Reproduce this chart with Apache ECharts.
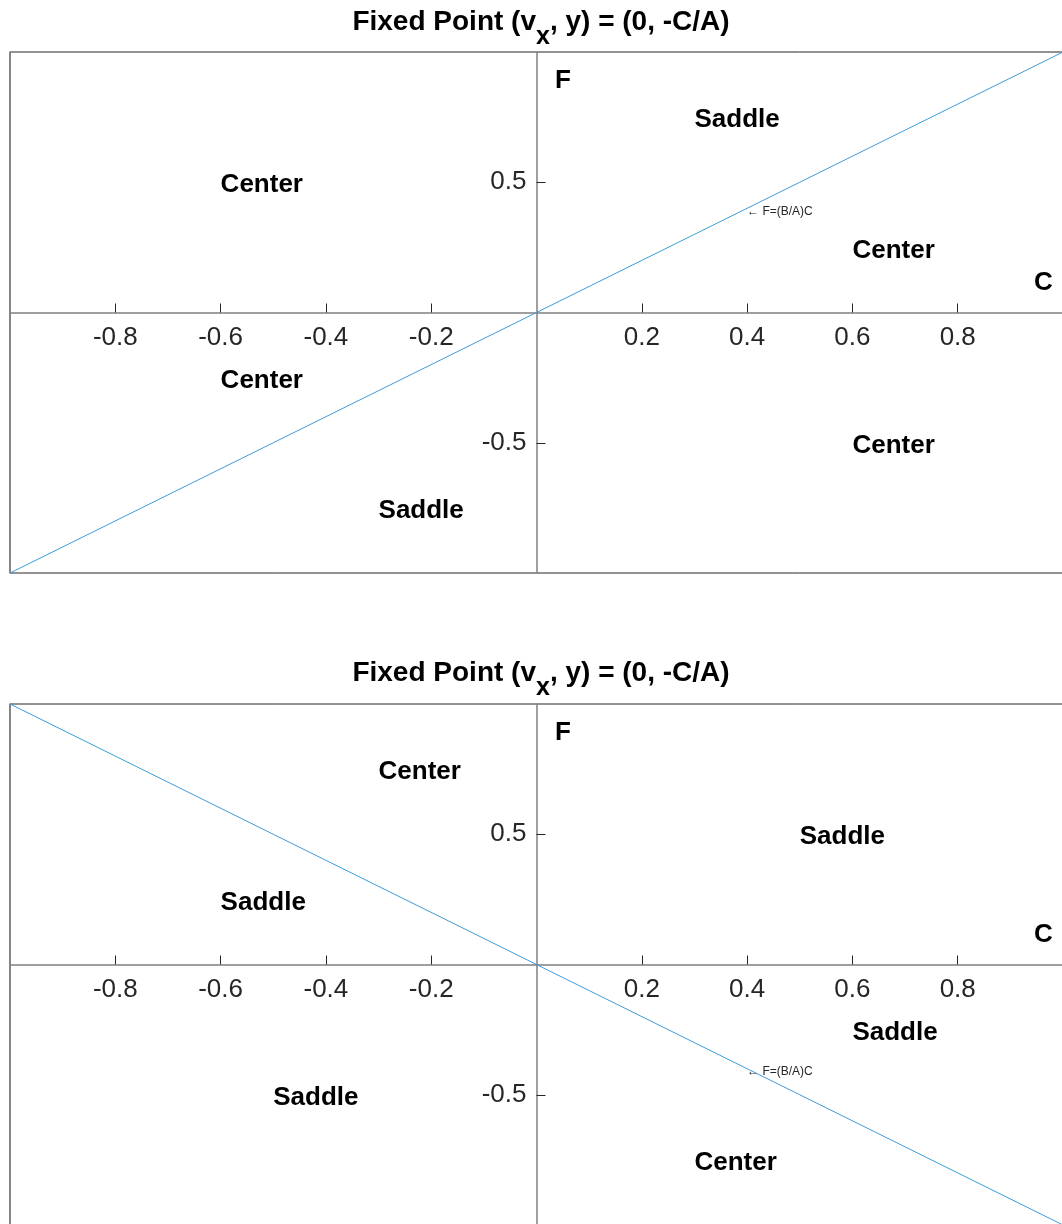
<!DOCTYPE html>
<html>
<head>
<meta charset="utf-8">
<script src="https://cdn.jsdelivr.net/npm/echarts@6/dist/echarts.min.js"></script>
<style>
  html, body { margin: 0; padding: 0; background: #fff; }
  #chart { width: 1062px; height: 1224px; }
</style>
</head>
<body>
<div id="chart"></div>
<script>
// Axis ticks shown on the origin-crossing axes
const xTicks = [-0.8, -0.6, -0.4, -0.2, 0.2, 0.4, 0.6, 0.8];
const yTicks = [-0.5, 0.5];

// Boundary line F = (B/A)C, sampled at the ends of the C range
const cLine = [-1, 1];
const fTop = [-1, 1];
const fBottom = [1, -1];

// Region labels: [text, C, F]
const topRegions = [
  ["Center", -0.6, 0.5],
  ["Saddle", 0.3, 0.75],
  ["Center", 0.6, 0.25],
  ["Center", -0.6, -0.25],
  ["Saddle", -0.3, -0.75],
  ["Center", 0.6, -0.5]
];
const bottomRegions = [
  ["Center", -0.3, 0.75],
  ["Saddle", -0.6, 0.25],
  ["Saddle", 0.5, 0.5],
  ["Saddle", 0.6, -0.25],
  ["Saddle", -0.5, -0.5],
  ["Center", 0.3, -0.75]
];

// Axis name labels: [text, C, F]
const axisNames = [
  ["F", 0.035, 0.9],
  ["C", 0.945, 0.125]
];

// Annotation on the boundary line: [text, C, F]
const topNote = [["\u2190 F=(B/A)C", 0.4, 0.4]];
const bottomNote = [["\u2190 F=(B/A)C", 0.4, -0.4]];

const FONT = "'Liberation Sans', Arial, Helvetica, sans-serif";
const INK = '#262626';
const AXIS_GRAY = '#808080';

// Plot box size; both axes cross through the middle of it (range -1..1)
const GRID_W = 1053;
const GRID_H = 521;

const chart = echarts.init(document.getElementById('chart'), null, { renderer: 'canvas' });

function grid(top) {
  return {
    left: 10, top: top, width: GRID_W, height: GRID_H,
    containLabel: false, outerBoundsMode: 'none',
    show: true, borderColor: INK, borderWidth: 1, backgroundColor: 'transparent'
  };
}

function xAxis(gi) {
  return {
    type: 'value', gridIndex: gi, min: -1, max: 1, interval: 0.2,
    position: 'bottom', offset: -GRID_H / 2,
    axisLine: { onZero: false, lineStyle: { color: AXIS_GRAY, width: 1.5 } },
    axisTick: { inside: true, length: 9, customValues: xTicks, lineStyle: { color: INK, width: 1 } },
    axisLabel: {
      customValues: xTicks, fontSize: 26, color: INK, fontFamily: FONT, margin: 12,
      formatter: v => String(Math.round(v * 10) / 10)
    },
    splitLine: { show: false }
  };
}

function yAxis(gi) {
  return {
    type: 'value', gridIndex: gi, min: -1, max: 1, interval: 0.5,
    position: 'left', offset: -GRID_W / 2,
    axisLine: { onZero: false, lineStyle: { color: AXIS_GRAY, width: 1.5 } },
    axisTick: { inside: true, length: 9, customValues: yTicks, lineStyle: { color: INK, width: 1 } },
    axisLabel: {
      customValues: yTicks, fontSize: 26, color: INK, fontFamily: FONT, margin: 10,
      formatter: v => String(Math.round(v * 10) / 10)
    },
    splitLine: { show: false }
  };
}

// Left edge of the plot box, drawn as a plain gray axis line
function edgeAxis(gi) {
  return {
    type: 'value', gridIndex: gi, min: -1, max: 1, position: 'left', offset: 0,
    axisLine: { onZero: false, show: true, lineStyle: { color: AXIS_GRAY, width: 1.5 } },
    axisTick: { show: false }, axisLabel: { show: false }, splitLine: { show: false }
  };
}

function textSeries(rows, xi, yi, style) {
  return {
    type: 'scatter', xAxisIndex: xi, yAxisIndex: yi, symbolSize: 0, silent: true, z: 5,
    itemStyle: { opacity: 1 },
    data: rows.map(r => ({ name: r[0], value: [r[1], r[2]] })),
    label: Object.assign({
      show: true, position: 'right', distance: 0, formatter: '{b}',
      fontFamily: FONT, color: '#000', opacity: 1
    }, style)
  };
}

const boldLabel = { fontSize: 26, fontWeight: 'bold', offset: [0, 3] };
const noteLabel = { fontSize: 12, fontWeight: 'normal', color: INK, offset: [0, 3] };

function lineSeries(fVals, xi, yi) {
  return {
    type: 'line', xAxisIndex: xi, yAxisIndex: yi, showSymbol: false, silent: true, z: 3,
    data: cLine.map((c, i) => [c, fVals[i]]),
    lineStyle: { color: '#3f9bd8', width: 1 }
  };
}

// Title with a lowered subscript: main tokens sit at the top of a taller line,
// the subscript token sits at its bottom
const titleRich = {
  b: { fontSize: 28, fontWeight: 'bold', color: '#000', fontFamily: FONT, lineHeight: 42, verticalAlign: 'top' },
  s: { fontSize: 25, fontWeight: 'bold', color: '#000', fontFamily: FONT, lineHeight: 30, verticalAlign: 'bottom' }
};
const titleText = '{b|Fixed Point (v}{s|x}{b|, y) = (0, -C/A)}';

chart.setOption({
  animation: false,
  backgroundColor: '#fff',
  title: [
    { text: titleText, left: 536, top: 3, textAlign: 'center', textStyle: { rich: titleRich } },
    { text: titleText, left: 536, top: 654, textAlign: 'center', textStyle: { rich: titleRich } }
  ],
  grid: [grid(52), grid(704)],
  xAxis: [xAxis(0), xAxis(1)],
  yAxis: [yAxis(0), yAxis(1), edgeAxis(0), edgeAxis(1)],
  series: [
    lineSeries(fTop, 0, 0),
    lineSeries(fBottom, 1, 1),
    textSeries(topRegions, 0, 0, boldLabel),
    textSeries(axisNames, 0, 0, boldLabel),
    textSeries(topNote, 0, 0, noteLabel),
    textSeries(bottomRegions, 1, 1, boldLabel),
    textSeries(axisNames, 1, 1, boldLabel),
    textSeries(bottomNote, 1, 1, noteLabel)
  ]
});
</script>
</body>
</html>
